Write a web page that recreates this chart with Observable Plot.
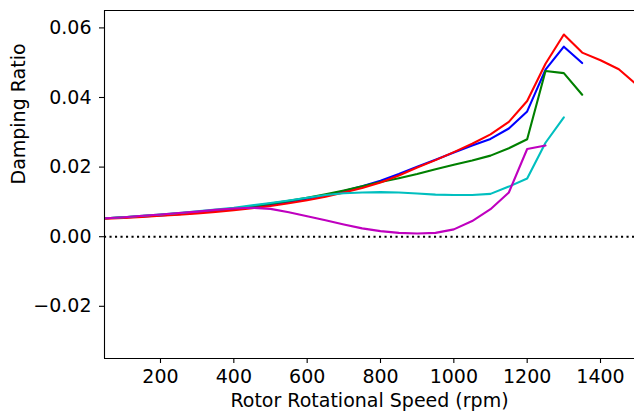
<!DOCTYPE html>
<html>
<head>
<meta charset="utf-8">
<script src="https://cdn.jsdelivr.net/npm/d3@7"></script>
<script src="https://cdn.jsdelivr.net/npm/@observablehq/plot@0.6"></script>
<style>
  html, body { margin: 0; padding: 0; background: #fff; overflow: hidden; }
  svg { display: block; }
</style>
</head>
<body>
<div id="chart"></div>
<script>
// Rotor speed (rpm) at which the damping ratio was evaluated
const speeds = [50, 100, 150, 200, 250, 300, 350, 400, 450, 500, 550, 600, 650, 700, 750,
  800, 850, 900, 950, 1000, 1050, 1100, 1150, 1200, 1250, 1300, 1350, 1400, 1450, 1500];

// Damping ratio per case (each series starts at 50 rpm)
const blueSeries = [0.0053, 0.0055, 0.0058, 0.0061, 0.0065, 0.0069, 0.0074, 0.0079, 0.0085, 0.0092,
  0.0100, 0.0109, 0.0119, 0.0131, 0.0145, 0.0161, 0.0180, 0.0201, 0.0221, 0.0242,
  0.0262, 0.0281, 0.0311, 0.0360, 0.0480, 0.0546, 0.0499];
const greenSeries = [0.0053, 0.0056, 0.0059, 0.0063, 0.0067, 0.0071, 0.0076, 0.0081, 0.0088, 0.0095,
  0.0103, 0.0112, 0.0122, 0.0133, 0.0145, 0.0157, 0.0168, 0.0180, 0.0194, 0.0207,
  0.0219, 0.0233, 0.0254, 0.0280, 0.0476, 0.0470, 0.0408];
const redSeries = [0.0052, 0.0054, 0.0057, 0.0060, 0.0063, 0.0067, 0.0071, 0.0076, 0.0082, 0.0088,
  0.0096, 0.0105, 0.0115, 0.0127, 0.0140, 0.0156, 0.0176, 0.0199, 0.0220, 0.0243,
  0.0267, 0.0294, 0.0330, 0.0390, 0.0497, 0.0581, 0.0529, 0.0507, 0.0481, 0.0436];
const cyanSeries = [0.0053, 0.0056, 0.0060, 0.0064, 0.0068, 0.0073, 0.0078, 0.0083, 0.0090, 0.0097,
  0.0104, 0.0112, 0.0120, 0.0125, 0.0127, 0.0128, 0.0127, 0.0124, 0.0121, 0.0120,
  0.0120, 0.0123, 0.0144, 0.0167, 0.0270, 0.0343];
const magentaSeries = [0.0053, 0.0056, 0.0060, 0.0064, 0.0068, 0.0072, 0.0077, 0.0081, 0.0083, 0.0080,
  0.0070, 0.0059, 0.0047, 0.0035, 0.0024, 0.0016, 0.0011, 0.0009, 0.0011, 0.0021,
  0.0045, 0.0079, 0.0127, 0.0252, 0.0262];

const seriesList = [
  {values: blueSeries, color: "#0000ff"},
  {values: greenSeries, color: "#008000"},
  {values: redSeries, color: "#ff0000"},
  {values: cyanSeries, color: "#00bfbf"},
  {values: magentaSeries, color: "#bf00bf"}
];

const xTicks = [200, 400, 600, 800, 1000, 1200, 1400];
const yTicks = [-0.02, 0.00, 0.02, 0.04, 0.06];
const xDomain = [47.3, 1492.7];
const yDomain = [-0.035, 0.065];
const zeroLine = [0];
const xTitle = "Rotor Rotational Speed (rpm)";
const yTitle = "Damping Ratio";

const lineMarks = seriesList.map(s =>
  Plot.line(s.values.map((v, i) => ({speed: speeds[i], ratio: v})), {
    x: "speed", y: "ratio", stroke: s.color, strokeWidth: 2.1, clip: true
  })
);

const chart = Plot.plot({
  width: 634,
  height: 415,
  marginTop: 10,
  marginRight: 0,
  marginBottom: 57,
  marginLeft: 104,
  style: {fontFamily: "DejaVu Sans, sans-serif", fontSize: "19px", color: "#000", background: "#fff"},
  x: {domain: xDomain},
  y: {domain: yDomain},
  marks: [
    Plot.ruleY(zeroLine, {stroke: "#000", strokeWidth: 2.1, strokeDasharray: "2.1,3.4"}),
    ...lineMarks,
    Plot.ruleX([xDomain[0]], {stroke: "#000", strokeWidth: 1.1}),
    Plot.ruleY([yDomain[0]], {stroke: "#000", strokeWidth: 1.1}),
    Plot.ruleY([yDomain[1]], {stroke: "#000", strokeWidth: 1.1}),
    Plot.axisX({ticks: xTicks, tickSize: 5, tickPadding: 6, label: null, strokeWidth: 1.1,
      tickFormat: d3.format("d")}),
    Plot.axisY({ticks: yTicks, tickSize: 5, tickPadding: 8, label: null, strokeWidth: 1.1,
      tickFormat: d3.format(".2f")}),
    Plot.text([xTitle], {frameAnchor: "bottom", dy: 48, fontSize: 19, fill: "#000"}),
    Plot.text([yTitle], {frameAnchor: "left", rotate: -90, dx: -86, fontSize: 19, fill: "#000"})
  ]
});

document.getElementById("chart").appendChild(chart);
</script>
</body>
</html>
